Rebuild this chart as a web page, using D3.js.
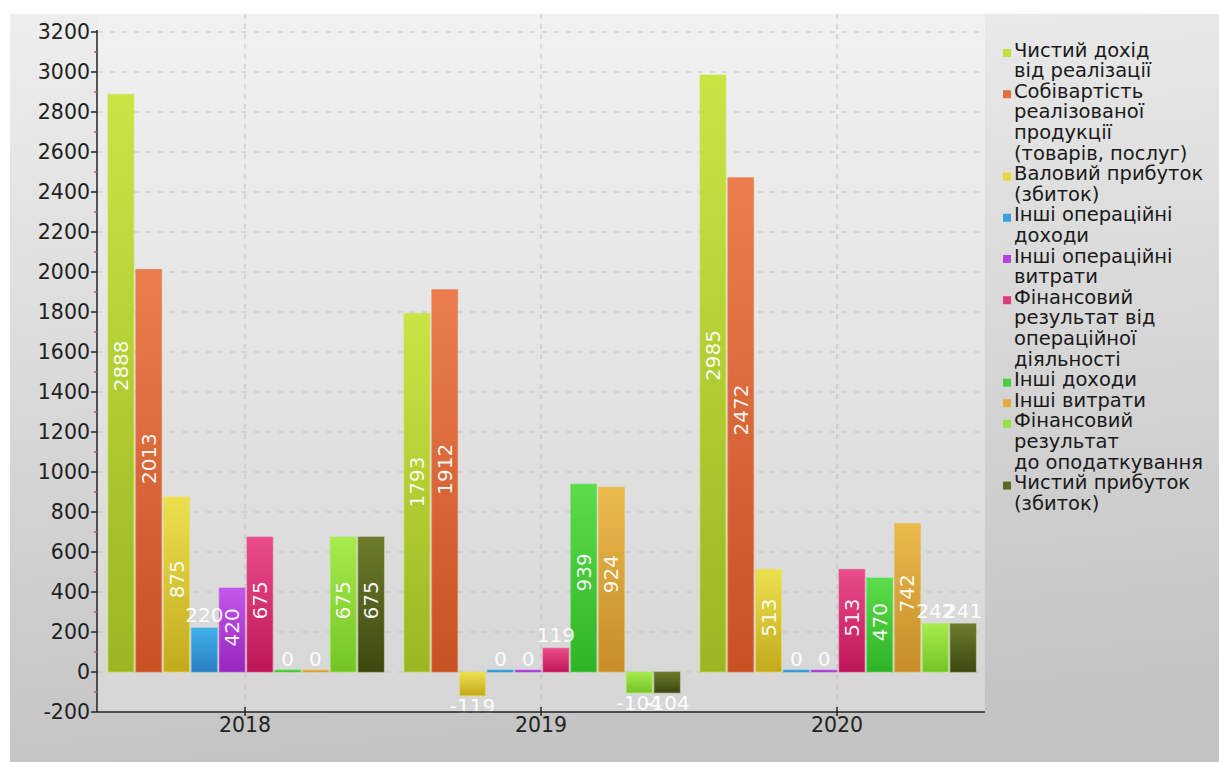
<!DOCTYPE html>
<html>
<head>
<meta charset="utf-8">
<script src="https://cdn.jsdelivr.net/npm/d3@7"></script>
<style>
  html, body { margin: 0; padding: 0; background: #ffffff; }
  svg { display: block; }
  text { font-family: "DejaVu Sans", Verdana, sans-serif; }
</style>
</head>
<body>
<svg id="chart" width="1219" height="762"></svg>
<script>
// ---------- data ----------
const years = ["2018", "2019", "2020"];
const seriesNames = [
  "Чистий дохід\nвід реалізації",
  "Собівартість\nреалізованої\nпродукції\n(товарів, послуг)",
  "Валовий прибуток\n(збиток)",
  "Інші операційні\nдоходи",
  "Інші операційні\nвитрати",
  "Фінансовий\nрезультат від\nопераційної\nдіяльності",
  "Інші доходи",
  "Інші витрати",
  "Фінансовий\nрезультат\nдо оподаткування",
  "Чистий прибуток\n(збиток)"
];
const values2018 = [2888, 2013, 875, 220, 420, 675, 0, 0, 675, 675];
const values2019 = [1793, 1912, -119, 0, 0, 119, 939, 924, -104, -104];
const values2020 = [2985, 2472, 513, 0, 0, 513, 470, 742, 242, 241];
const yTickValues = [-200, 0, 200, 400, 600, 800, 1000, 1200, 1400, 1600, 1800, 2000, 2200, 2400, 2600, 2800, 3000, 3200];

// ---------- styles ----------
const colorsTop = ["#c9e544", "#ea7d4e", "#ece04e", "#3eb0ea", "#c458ea", "#ea4c8c", "#5cdc4a", "#eaba4c", "#a6ec4c", "#6e7c2c"];
const colorsBottom = ["#9ab622", "#c85224", "#c2aa1c", "#2a80c2", "#9626be", "#be1656", "#2eb426", "#c68c28", "#74c426", "#3c4810"];
const legendColors = ["#c4e03c", "#e07040", "#e8d840", "#3a9fe0", "#b444e0", "#e03c7c", "#4cd040", "#e0ac40", "#98e040", "#5a6a20"];

const valuesByYear = [values2018, values2019, values2020];
const svg = d3.select("#chart");
const W = 1219, H = 762;
const plot = { left: 97, right: 985, top: 14, bottom: 712 };

// ---------- background ----------
const defs = svg.append("defs");
const bgGrad = defs.append("linearGradient").attr("id", "bg").attr("x1", 0).attr("y1", 0).attr("x2", 0.15).attr("y2", 1);
bgGrad.append("stop").attr("offset", "0%").attr("stop-color", "#eeeeee");
bgGrad.append("stop").attr("offset", "100%").attr("stop-color", "#c4c4c4");
const plotGrad = defs.append("linearGradient").attr("id", "plotbg").attr("x1", 0).attr("y1", 0).attr("x2", 0).attr("y2", 1);
plotGrad.append("stop").attr("offset", "0%").attr("stop-color", "#f1f1f1");
plotGrad.append("stop").attr("offset", "100%").attr("stop-color", "#d6d6d6");

svg.append("rect").attr("x", 0).attr("y", 0).attr("width", W).attr("height", H).attr("fill", "#ffffff");
svg.append("rect").attr("x", 10).attr("y", 14).attr("width", W - 10).attr("height", H - 14).attr("fill", "url(#bg)");
svg.append("rect").attr("x", plot.left).attr("y", plot.top).attr("width", plot.right - plot.left).attr("height", plot.bottom - plot.top).attr("fill", "url(#plotbg)");

// ---------- scales ----------
const y = d3.scaleLinear().domain([-200, 3200]).range([plot.bottom, 32]);
const x0 = d3.scaleBand().domain(years).range([plot.left, plot.right]).paddingInner(0).paddingOuter(0);
const x1 = d3.scaleBand().domain(d3.range(seriesNames.length)).range([11, x0.bandwidth() - 9]).paddingInner(0.07);

// ---------- grid ----------
const grid = svg.append("g");
grid.selectAll("line.h").data(yTickValues.filter(v => v > -200)).join("line")
  .attr("x1", plot.left + 1).attr("x2", plot.right)
  .attr("y1", d => y(d)).attr("y2", d => y(d))
  .attr("stroke", "#c4c4c4").attr("stroke-width", 1.2).attr("stroke-dasharray", "5,7");
grid.selectAll("line.v").data(years).join("line")
  .attr("x1", d => x0(d) + x0.bandwidth() / 2).attr("x2", d => x0(d) + x0.bandwidth() / 2)
  .attr("y1", plot.top).attr("y2", plot.bottom)
  .attr("stroke", "#c0c0c0").attr("stroke-width", 1).attr("stroke-dasharray", "5,5");

// ---------- bar gradients ----------
seriesNames.forEach((_, i) => {
  const g = defs.append("linearGradient").attr("id", "bar" + i).attr("x1", 0).attr("y1", 0).attr("x2", 0).attr("y2", 1);
  g.append("stop").attr("offset", "0%").attr("stop-color", colorsTop[i]);
  g.append("stop").attr("offset", "100%").attr("stop-color", colorsBottom[i]);
});

// ---------- bars ----------
const flat = [];
years.forEach((yr, yi) => valuesByYear[yi].forEach((v, si) => flat.push({ year: yr, s: si, v })));

const barsG = svg.append("g");
barsG.selectAll("rect").data(flat).join("rect")
  .attr("x", d => x0(d.year) + x1(d.s))
  .attr("width", x1.bandwidth())
  .attr("y", d => d.v === 0 ? y(0) - 2 : Math.min(y(d.v), y(0)))
  .attr("height", d => d.v === 0 ? 2 : Math.abs(y(d.v) - y(0)))
  .attr("fill", d => `url(#bar${d.s})`)
  .attr("stroke", d => colorsTop[d.s]).attr("stroke-opacity", 0.6).attr("stroke-width", 1);

// ---------- labels ----------
const labelsG = svg.append("g");
const fs = 20;
flat.forEach(d => {
  const cx = x0(d.year) + x1(d.s) + x1.bandwidth() / 2;
  const h = Math.abs(y(d.v) - y(0));
  const txt = String(d.v);
  const tw = txt.length * fs * 0.64;
  if (h > tw + 16) {
    const cy = (y(d.v) + y(0)) / 2 - Math.min(20, h * 0.03);
    labelsG.append("text")
      .attr("transform", `translate(${cx},${cy}) rotate(-90)`)
      .attr("text-anchor", "middle").attr("dominant-baseline", "central")
      .attr("font-size", fs).attr("fill", "#ffffff").attr("fill-opacity", 0.95)
      .text(txt);
  } else if (d.v >= 0) {
    labelsG.append("text")
      .attr("x", cx).attr("y", y(d.v) - 6)
      .attr("text-anchor", "middle")
      .attr("font-size", fs).attr("fill", "#ffffff").attr("fill-opacity", 0.95)
      .text(txt);
  } else {
    labelsG.append("text")
      .attr("x", cx).attr("y", y(d.v) + 17)
      .attr("text-anchor", "middle")
      .attr("font-size", fs).attr("fill", "#ffffff").attr("fill-opacity", 0.95)
      .text(txt);
  }
});

// ---------- axes ----------
const yAxis = svg.append("g");
yAxis.append("line").attr("x1", plot.left).attr("x2", plot.left).attr("y1", 30).attr("y2", plot.bottom)
  .attr("stroke", "#222").attr("stroke-width", 1.5);
yAxis.selectAll("line.minor").data(d3.range(-100, 3200, 200)).join("line")
  .attr("x1", plot.left - 3).attr("x2", plot.left)
  .attr("y1", d => y(d)).attr("y2", d => y(d))
  .attr("stroke", "#d04a5a").attr("stroke-width", 1.5);
yAxis.selectAll("line.major").data(yTickValues).join("line")
  .attr("x1", plot.left - 6).attr("x2", plot.left)
  .attr("y1", d => y(d)).attr("y2", d => y(d))
  .attr("stroke", "#222").attr("stroke-width", 1.5);
yAxis.selectAll("text").data(yTickValues).join("text")
  .attr("x", plot.left - 7).attr("y", d => y(d))
  .attr("text-anchor", "end").attr("dominant-baseline", "central")
  .attr("font-size", 20.5).attr("fill", "#222")
  .text(d => d);

const xAxis = svg.append("g");
xAxis.append("line").attr("x1", plot.left).attr("x2", plot.right).attr("y1", plot.bottom).attr("y2", plot.bottom)
  .attr("stroke", "#222").attr("stroke-width", 1.5);
xAxis.selectAll("line.t").data(years).join("line")
  .attr("x1", d => x0(d) + x0.bandwidth() / 2).attr("x2", d => x0(d) + x0.bandwidth() / 2)
  .attr("y1", plot.bottom - 5).attr("y2", plot.bottom + 4)
  .attr("stroke", "#222").attr("stroke-width", 1.5);
xAxis.selectAll("text").data(years).join("text")
  .attr("x", d => x0(d) + x0.bandwidth() / 2).attr("y", plot.bottom + 13)
  .attr("text-anchor", "middle").attr("dominant-baseline", "central")
  .attr("font-size", 20.5).attr("fill", "#222")
  .text(d => d);

// ---------- legend ----------
const legend = svg.append("g");
const lineH = 20.6;
let line = 0;
seriesNames.forEach((name, i) => {
  const parts = name.split("\n");
  const y0 = 50 + line * lineH;
  legend.append("rect").attr("x", 1003).attr("y", y0 - 1).attr("width", 8).attr("height", 8).attr("fill", legendColors[i]);
  parts.forEach((p, k) => {
    legend.append("text")
      .attr("x", 1014).attr("y", y0 + k * lineH)
      .attr("dominant-baseline", "central")
      .attr("font-size", 19.5).attr("fill", "#1a1a1a")
      .text(p);
  });
  line += parts.length;
});
</script>
</body>
</html>
